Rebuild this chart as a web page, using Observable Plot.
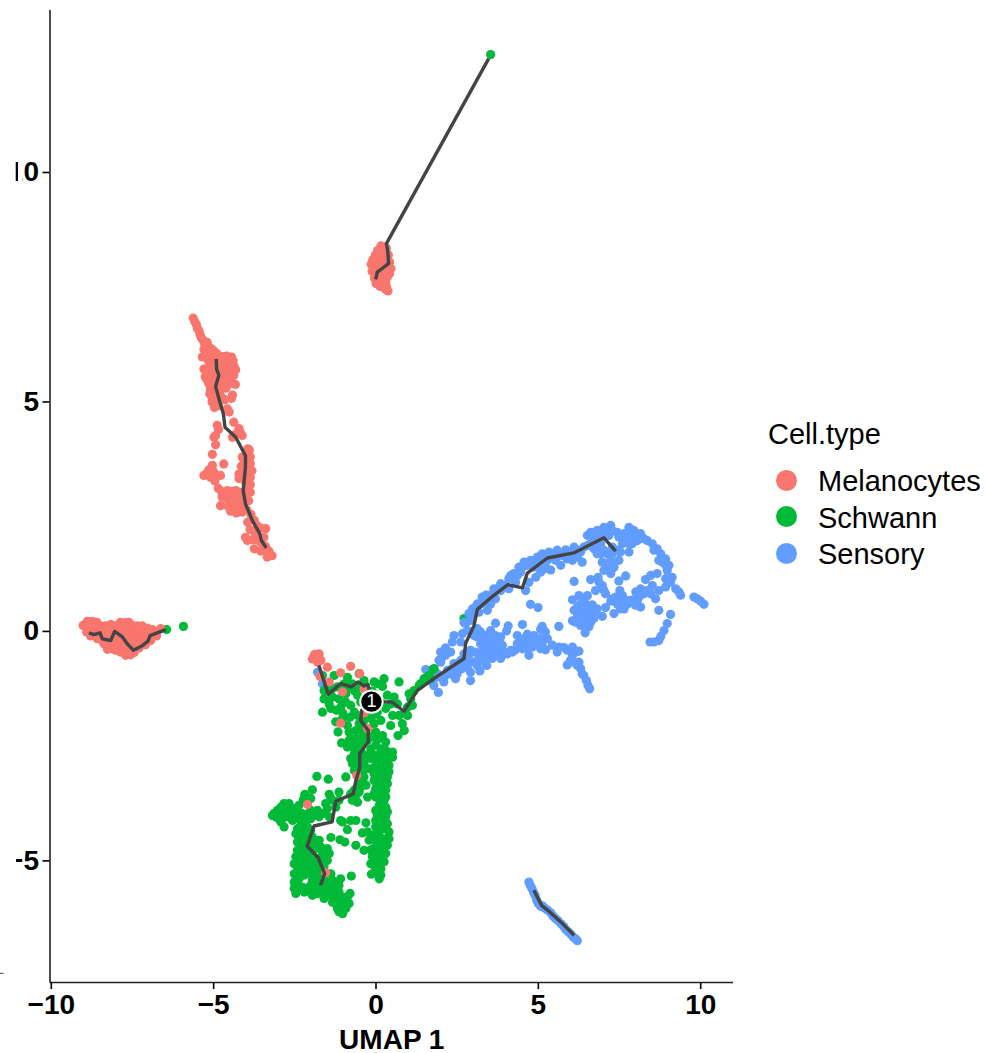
<!DOCTYPE html>
<html><head><meta charset="utf-8">
<script src="https://cdn.jsdelivr.net/npm/d3@7"></script>
<script src="https://cdn.jsdelivr.net/npm/@observablehq/plot@0.6"></script>
<style>
html,body{margin:0;padding:0;background:#fff;width:986px;height:1053px;overflow:hidden;position:relative;font-family:"Liberation Sans",sans-serif}
#legend{position:absolute;left:768px;top:416px;width:218px;color:#000}
#legend .t{font-size:29px;line-height:36px;height:46px}
#legend .r{position:absolute;left:0;height:36px;font-size:29px;line-height:38px;padding-left:50px;white-space:nowrap}
#legend .k{position:absolute;left:7.5px;top:7.5px;width:21px;height:21px;border-radius:50%}
</style></head><body>
<div id="chart"></div>
<div id="legend"></div>
<script>
const cellTypes = ["Melanocytes", "Schwann", "Sensory"];
const cellColors = ["#F8766D", "#00BA38", "#619CFF"];
const xTicks = [-10, -5, 0, 5, 10];
const yTicks = [10, 5, 0, -5];
const xDomain = [-10.04, 11.01];
const yDomain = [-7.65, 13.53];
const strayMark = {y: -7.45, x1: -11.57, x2: -11.45};
const nodes = [{x: -0.14, y: -1.53, label: "1"}];

const melanocytes = [
[0.15,8.40],[0.25,8.38],[0.32,8.35],[0.05,8.30],[0.15,8.28],[0.28,8.25],[0.38,8.2],[-0.02,8.2],[0.1,8.18],[0.2,8.15],[0.35,8.1],[0.42,8.05],[-0.1,8.1],[0,8.08],[0.12,8.05],[0.25,8.02],[0.4,7.95],[0.46,7.9],[-0.15,8],[-0.08,7.95],[0.05,7.95],[0.18,7.9],[0.3,7.88],[0.42,7.8],[-0.12,7.85],[-0.02,7.82],[0.1,7.8],[0.22,7.75],[0.35,7.72],[-0.05,7.7],[0.05,7.65],[0.18,7.62],[0.3,7.6],[0,7.58],[0.12,7.52],[0.22,7.5],[0.3,7.45],[0.37,7.42],[0.33,7.5],
[-5.63,6.83],[-5.58,6.75],[-5.53,6.68],[-5.5,6.6],[-5.45,6.55],[-5.42,6.47],[-5.38,6.4],[-5.33,6.35],[-5.28,6.27],[-5.2,6.3],[-5.15,6.2],[-5.3,6.15],[-5.22,6.1],[-5.05,6.15],[-5.12,6.05],[-4.98,6.1],[-4.9,6.05],[-5.35,5.98],
[-5.18,6.0],[-5.03,5.98],[-4.88,6.02],[-4.73,5.99],[-4.6,6.0],[-4.45,5.98],[-5.16,5.9],[-5.0,5.88],[-4.85,5.92],[-4.7,5.9],[-4.55,5.87],[-4.4,5.9],[-5.1,5.78],[-4.95,5.82],[-4.8,5.8],[-4.65,5.77],[-4.5,5.8],[-4.37,5.78],[-5.3,5.72],[-5.2,5.68],[-5.05,5.7],[-4.75,5.68],[-4.6,5.7],[-4.45,5.67],[-4.32,5.7],[-5.26,5.55],[-5.12,5.6],[-4.98,5.58],[-4.82,5.6],[-4.68,5.57],[-4.52,5.6],[-4.38,5.58],[-5.22,5.5],[-5.08,5.47],[-4.92,5.5],[-4.75,5.48],[-4.6,5.5],[-4.45,5.47],[-4.33,5.38],[-5.15,5.4],[-5.0,5.38],[-4.85,5.4],[-4.68,5.37],[-4.5,5.4],[-5.1,5.28],[-4.95,5.3],[-4.78,5.27],[-4.62,5.3],[-5.12,5.18],[-5,5.2],[-4.85,5.17],[-4.42,5.15],[-5.05,5.1],[-4.9,5.08],[-4.75,5.1],[-4.65,5.05],[-4.45,5.08],[-5.05,5],[-4.95,4.98],[-4.82,5.02],[-4.98,4.88],[-4.85,4.92],[-4.58,4.85],[-4.52,4.78],
[-4.38,4.56],[-4.89,4.49],[-4.94,4.27],[-4.99,4.23],[-4.94,4.07],[-5.04,3.86],[-4.69,3.65],[-4.85,4.4],[-4.22,4.42],[-4.12,4.27],[-4.42,4.23],[-4.32,4.3],[-4.18,4.34],[-3.95,3.98],[-3.87,3.8],[-4.12,3.8],[-3.87,3.65],[-3.82,3.5],[-3.87,3.36],[-4.22,3.43],[-4.22,3.33],[-4.02,3.25],[-3.9,3.95],[-4.05,3.7],[-4.0,3.5],[-3.87,3.2],[-3.87,3.03],[-3.92,2.85],[-4.05,3.05],[-3.92,3.72],[-4.15,3.6],[-4.12,3.45],[-3.95,3.1],[-4.0,2.95],[-3.98,3.35],
[-5.3,3.4],[-5.04,3.62],[-5.15,3.52],[-5.0,3.48],[-4.79,3.4],[-5.1,3.36],[-4.96,3.28],[-5.2,3.45],[-4.95,3.42],[-4.86,3.12],[-4.76,3.05],[-4.79,2.74],[-4.74,2.93],
[-4.58,3.07],[-4.45,3.05],[-4.32,3.07],[-4.18,3.03],[-4.6,2.88],[-4.48,2.92],[-4.35,2.88],[-4.2,2.9],[-4.08,2.87],[-4.55,2.72],[-4.4,2.75],[-4.27,2.72],[-4.12,2.73],[-4.48,2.62],[-4.3,2.58],[-4.12,2.6],[-3.98,2.65],[-4.08,2.78],
[-3.85,2.55],[-3.75,2.42],[-3.65,2.3],[-3.55,2.25],[-3.4,2.24],[-3.95,2.38],[-3.88,2.22],[-3.75,2.18],[-4.02,2.05],[-3.96,1.98],[-3.8,2.0],[-3.75,1.8],[-3.62,1.98],[-3.5,1.91],[-3.45,2.05],[-3.35,1.62],[-3.2,1.65],[-3.3,1.75],[-3.4,1.85],[-3.68,2.1],[-3.55,1.75],
[-9.02,0.13],[-8.89,0.22],[-8.74,0.22],[-8.60,0.20],[-8.94,0.09],[-8.79,0.12],[-8.63,0.09],[-8.48,0.12],[-8.33,0.12],[-8.17,0.15],[-8.91,-0.01],[-8.77,0],[-8.60,-0.03],[-8.43,-0.01],[-8.27,0],[-8.12,0.04],[-7.97,0.13],[-7.87,0.20],[-7.71,0.19],[-7.61,0.20],[-7.81,0.09],[-7.66,0.07],[-7.50,0.13],[-7.35,0.12],[-7.20,0.12],[-7.04,0.07],[-6.89,0.04],[-6.74,0],[-6.63,0.06],[-8.79,-0.10],[-8.58,-0.16],[-8.43,-0.20],[-8.27,-0.16],[-8.12,-0.12],[-7.97,-0.05],[-7.81,-0.03],[-7.66,-0.05],[-7.50,-0.01],[-7.35,0],[-7.20,-0.01],[-7.04,-0.05],[-6.89,-0.09],[-6.76,-0.10],[-8.38,-0.27],[-8.22,-0.30],[-8.27,-0.39],[-8.12,-0.38],[-8.12,-0.25],[-7.97,-0.20],[-7.81,-0.16],[-7.66,-0.17],[-7.50,-0.15],[-7.35,-0.12],[-7.20,-0.15],[-7.04,-0.16],[-6.94,-0.20],[-7.97,-0.34],[-7.81,-0.29],[-7.66,-0.30],[-7.50,-0.27],[-7.35,-0.25],[-7.20,-0.25],[-7.10,-0.29],[-7.76,-0.41],[-7.61,-0.41],[-7.45,-0.38],[-7.30,-0.36],[-7.71,-0.52],[-7.56,-0.51],[-7.45,-0.46],[-7.87,-0.45],[-8.02,-0.41],
[-1.86,-0.56],[-1.91,-0.52],[-1.80,-0.67],[-1.75,-0.49],[-1.96,-0.60],[-1.70,-0.63],[-1.88,-0.5],[-1.82,-0.6],[-1.78,-0.55],[-1.50,-0.78],[-0.78,-0.76],[-1.09,-0.90],[-0.50,-0.92],[-1.44,-1.10],[-1.72,-0.98],[-1.03,-1.32],[-1.09,-2.00],[-0.37,-1.77],[-0.26,-2.12],[-0.59,-3.14],[-2.11,-3.77],[-1.55,-5.26],[-0.37,-1.25]
];

const schwann = [
[3.53,12.57],[-6.45,0.04],[-5.93,0.11],
[-1.65,-0.96],[-1.60,-1.47],[-1.65,-1.76],[-1.39,-1.68],[-1.29,-0.96],[-0.88,-1.0],[-0.52,-0.92],[-0.06,-1.10],[0.25,-1.03],[0.71,-1.10],[-1.19,-1.21],[-0.73,-1.14],[-0.37,-1.07],[-0.93,-1.36],[-0.57,-1.39],[-1.34,-1.43],[-1.09,-1.65],[-0.78,-1.61],[-1.14,-1.47],[-0.26,-1.72],[0.04,-1.76],[0.30,-1.68],[0.56,-1.43],[0.66,-1.58],[0.35,-1.39],[1.12,-1.61],[1.02,-1.36],[0.71,-1.83],[0.97,-1.83],[0.81,-2.01],[0.87,-2.16],[0.68,-2.27],[-0.80,-1.87],[-1.24,-1.97],[-1.17,-2.19],[-0.88,-2.05],[-0.52,-2.01],[-0.06,-2.01],[-0.01,-2.19],[0.20,-2.27],[0.45,-2.05],[-0.62,-2.16],[-1.06,-2.43],[-0.73,-2.34],[-0.88,-2.52],[-0.67,-2.52],[-0.37,-2.27],[-0.47,-2.45],[-0.16,-2.56],[-0.01,-2.48],[0.30,-2.41],[0.51,-2.63],[-0.73,-2.81],[-0.67,-2.66],[-0.37,-2.70],[-0.01,-2.70],[0.40,-2.77],
[-1.50,-1.14],[-1.60,-1.29],[-1.44,-1.58],[-0.98,-1.14],[-0.93,-1.54],[-0.67,-1.29],[-0.47,-1.21],[-0.26,-1.39],[-0.47,-1.54],[-0.67,-1.76],[-0.37,-1.94],[-0.16,-1.90],[0.15,-1.94],[0.04,-1.14],[0.15,-1.54],[0.45,-1.58],[0.51,-1.83],[0.97,-1.65],[1.07,-1.47],[-0.57,-1.83],[-1.03,-1.90],[-0.83,-2.19],[-0.47,-2.16],[-0.26,-2.37],[-0.57,-2.34],[-0.83,-2.37],[-0.67,-2.41],[-0.47,-2.59],[-0.26,-2.70],[-0.16,-2.77],[-0.52,-2.70],[-0.26,-2.99],[-0.47,-2.85],[-0.78,-2.77],[-0.73,-2.88],[0.15,-2.56],[0.30,-2.59],[0.51,-2.74],[0.40,-2.92],[0.15,-2.30],[0.35,-2.66],
[-1.22,-1.72],[-1.02,-1.78],[-1.35,-1.25],[-0.85,-1.25],[-0.12,-1.30],[-0.02,-1.80],[0.20,-1.20],[-0.12,-2.30],[0.05,-2.35],[-0.28,-2.15],
[0.04,-2.88],[0.30,-2.88],[0.15,-2.99],[-0.01,-3.06],[0.25,-3.06],[0.10,-3.17],[0.35,-3.17],[0.04,-3.28],[0.25,-3.32],[-0.01,-3.43],[0.30,-3.46],[0.15,-3.57],[-0.06,-3.54],[0.25,-3.68],[0.10,-3.79],[0.30,-3.83],[0.20,-3.93],[0.04,-4.01],[0.30,-4.04],[0.15,-4.15],[0.35,-4.19],[-0.01,-4.26],[0.25,-4.30],[0.40,-4.37],[0.10,-4.44],[0.30,-4.52],[-0.01,-4.55],[0.20,-4.62],[0.35,-4.66],[-0.06,-4.73],[0.15,-4.81],[0.30,-4.84],[-0.11,-4.91],[0.10,-4.95],[0.25,-5.02],[-0.06,-5.10],[0.15,-5.17],[0.04,-5.28],[-0.01,-5.21],[0.10,-5.39],[-0.14,-5.29],[-0.06,-2.96],[0.20,-2.74],
[-0.06,-3.25],[0.40,-3.06],[-0.06,-3.10],[0.04,-3.39],[0.20,-3.43],[0.15,-3.28],[0.35,-3.32],[-0.01,-3.61],[0.10,-3.64],[0.30,-3.61],[0.15,-3.86],[-0.01,-3.90],[0.35,-3.93],[0.15,-4.04],[-0.01,-4.12],[0.30,-4.23],[0.10,-4.30],[-0.06,-4.44],[0.40,-4.52],[0.15,-4.55],[-0.01,-4.70],[-0.11,-4.81],[0.20,-4.73],[0.04,-4.84],[-0.01,-5.02],[0.10,-5.10],[-0.16,-5.06],[0.20,-4.91],[0.15,-5.31],
[-0.57,-2.77],[-0.62,-2.92],[-0.37,-2.88],[-0.67,-3.03],[-0.47,-3.06],[-0.37,-3.17],[-0.52,-3.25],[-0.37,-2.99],[-0.26,-3.61],[-0.73,-3.61],[-0.57,-3.72],[-0.73,-3.68],[-0.67,-3.46],[-0.47,-3.39],[-0.78,-3.54],[-0.62,-3.57],[-0.52,-3.50],[-0.57,-3.39],[-0.47,-3.28],[-0.31,-3.35],
[-1.82,-3.16],[-1.47,-3.22],[-0.93,-3.17],[-1.96,-3.45],[-2.19,-3.55],[-2.01,-3.64],[-2.24,-3.67],[-1.44,-3.55],[-1.14,-3.50],[-1.39,-3.64],[-1.24,-3.83],[-1.55,-3.75],[-1.50,-3.86],[-1.44,-4.04],[-1.09,-4.12],[-0.78,-4.12],[-0.62,-4.12],[-1.03,-4.15],[-0.88,-4.32],[-0.42,-4.39],[-0.31,-4.17],[-0.26,-4.37],[-0.21,-4.55],[-1.39,-4.49],[-1.11,-4.54],[-0.96,-4.59],[-0.62,-4.66],[-0.37,-4.77],[-0.16,-4.76],[-0.76,-5.33],[-1.09,-5.39],[-1.14,-5.53],[-1.14,-3.68],[-1.34,-3.68],
[-3.14,-3.97],[-3.04,-3.90],[-2.93,-3.83],[-2.83,-3.75],[-2.73,-3.79],[-2.88,-3.93],[-3.09,-4.04],[-2.99,-4.08],[-2.78,-4.04],[-2.63,-3.90],[-2.68,-4.04],[-2.83,-4.26],[-2.93,-4.15],[-2.42,-3.97],[-2.57,-4.12],[-2.52,-3.86],[-2.37,-3.79],[-2.99,-3.97],[-2.83,-3.86],[-2.73,-3.93],[-2.57,-4.01],[-3.19,-4.01],[-2.88,-4.04],[-2.68,-3.75],[-2.52,-3.97],
[-2.27,-3.97],[-2.01,-3.90],[-1.80,-3.90],[-1.65,-3.97],[-2.21,-4.12],[-2.01,-4.08],[-2.32,-4.23],[-2.11,-4.26],[-2.47,-4.41],[-2.27,-4.37],[-2.11,-4.48],[-2.42,-4.59],[-2.16,-4.62],[-1.96,-4.48],[-1.75,-4.55],[-2.27,-4.73],[-2.01,-4.77],[-1.70,-4.70],[-1.50,-4.73],[-2.47,-4.91],[-2.27,-4.91],[-2.06,-4.91],[-1.60,-4.88],[-1.44,-4.84],[-2.52,-5.06],[-2.32,-5.10],[-2.11,-5.10],[-1.91,-5.06],[-1.70,-5.06],[-2.42,-5.24],[-2.21,-5.21],[-2.01,-5.28],[-1.80,-5.24],[-1.55,-5.28],[-2.47,-5.42],[-2.40,-5.53],[-1.96,-5.42],[-1.75,-5.46],[-1.50,-5.46],[-1.34,-5.42],[-2.52,-5.60],[-2.37,-5.64],[-2.11,-5.60],[-1.91,-5.60],[-1.70,-5.64],[-1.44,-5.60],[-1.24,-5.64],[-2.47,-5.71],[-1.96,-5.75],[-1.60,-5.82],[-1.34,-5.79],[-1.14,-5.79],[-0.88,-5.79],[-1.24,-5.93],[-1.03,-5.90],[-0.83,-5.93],[-1.19,-6.04],[-1.03,-6.15],[-0.93,-6.04],[-0.80,-5.71],
[-2.27,-4.55],[-2.37,-4.48],[-2.21,-4.33],[-2.01,-4.33],[-1.86,-4.55],[-2.01,-4.62],[-1.86,-4.73],[-1.65,-4.81],[-2.16,-4.81],[-2.42,-4.77],[-2.37,-4.99],[-2.16,-4.99],[-1.96,-4.95],[-1.75,-4.95],[-1.50,-4.99],[-1.60,-5.13],[-2.42,-5.13],[-2.21,-5.31],[-2.01,-5.13],[-1.86,-5.13],[-2.52,-5.28],[-2.37,-5.39],[-1.91,-5.35],[-1.65,-5.35],[-1.39,-5.28],[-2.52,-5.46],[-1.86,-5.53],[-1.60,-5.53],[-1.39,-5.53],[-2.27,-5.57],[-2.01,-5.53],[-2.21,-5.68],[-2.01,-5.68],[-1.80,-5.71],[-1.55,-5.71],[-1.34,-5.68],[-1.14,-5.68],[-1.24,-5.53],[-1.14,-5.90],[-1.34,-5.90],[-0.98,-5.97],[-1.09,-6.0],[-1.14,-6.11],[-1.03,-5.79],[-1.86,-4.01],[-2.06,-3.97],[-1.75,-4.04],[-2.37,-4.08],[-2.42,-4.30],
[1.37,-1.14],[1.63,-0.96],[1.76,-0.83],[1.53,-1.07],[1.68,-1.03],[1.17,-1.29],[1.48,-1.03],[1.64,-0.96],[1.79,-0.81],[1.33,-1.18]
];

const schwannUnder = [[2.71,0.28]];

const sensory = [
[-1.80,-0.89],[-1.65,-1.14],[0.89,-1.78],
[1.53,-0.83],[1.63,-1.07],[1.78,-1.18],[1.92,-1.33],[2.09,-1.10],[1.89,-0.92],[2.14,-0.96],[2.40,-0.96],[2.45,-1.03],[2.20,-0.85],[2.35,-0.81],[2.50,-0.78],[1.94,-0.63],[2.04,-0.56],[1.99,-0.45],[2.14,-0.36],[2.30,-0.45],[2.40,-0.09],[2.35,-0.23],[2.61,-0.23],[2.66,-0.05],[2.76,0.17],[2.71,0.20],[2.91,0.24],[3.02,0.39],[2.97,0.49],[3.12,0.60],[3.27,0.75],[3.38,0.79],[3.58,0.82],[3.68,0.71],[3.43,0.46],[3.17,0.42],[3.53,0.60],[3.73,0.93],[3.94,1.00],[3.84,0.89],[4.15,1.22],[4.09,0.93],[4.30,1.07],[4.45,1.29],[4.40,1.40],[4.56,1.51],[4.76,1.55],[4.97,1.62],[5.12,1.69],[5.33,1.73],[5.58,1.77],[5.84,1.78],[6.10,1.84],[4.66,1.44],[4.86,1.40],[5.07,1.29],[4.92,1.18],[4.71,1.07],[4.61,0.89],[5.38,1.34],[5.28,1.55],[5.69,1.44],[5.53,1.55],[5.89,1.58],[6.20,1.62],[6.35,1.51],[6.05,1.55],[6.30,1.73],[6.51,1.87],[6.61,2.16],[6.51,2.09],[6.81,2.20],[7.02,2.27],[7.23,2.31],[6.97,2.13],[6.76,1.98],[6.71,1.80],[6.92,1.91],[7.17,2.09],[7.43,2.16],[7.64,2.13],[7.79,2.27],[7.94,2.20],[8.15,2.13],[8.35,1.98],[8.51,1.91],[8.66,1.80],[8.77,1.69],[8.92,1.58],[9.02,1.44],[9.12,1.18],[8.92,1.44],[8.71,1.55],[8.92,1.15],[9.02,1.07],[8.92,0.97],[9.23,0.93],[9.38,0.79],[7.99,2.06],[7.79,1.73],[7.59,1.91],[7.43,1.77],[7.28,1.84],[7.12,1.69],[6.81,1.69],[6.97,1.51],[7.23,1.55],[7.48,1.55],[7.28,1.37],[7.02,1.33],[7.23,1.26],[7.33,1.40],[7.69,1.21],[7.48,1.10],[7.51,0.89],[7.59,0.78],[7.38,0.75],[7.23,0.66],[7.43,0.60],[7.33,0.39],[7.53,0.49],[7.74,0.60],[7.89,0.68],[8.15,0.53],[8.10,0.75],[8.15,0.93],[8.35,0.89],[8.51,1.00],[8.66,1.26],[8.46,1.22],[8.30,1.13],[8.71,0.89],[8.61,0.71],[8.46,0.82],[8.71,0.46],[9.07,0.37],[8.97,0.17],[8.87,0.02],[8.77,-0.11],[8.56,-0.23],[8.44,-0.23],[8.71,-0.20],[9.79,0.75],[9.89,0.71],[10.00,0.66],[10.10,0.59],
[1.99,-0.67],[2.14,-0.52],[2.50,-0.92],[2.30,-0.92],[1.99,-1.0],[1.84,-1.0],[1.68,-0.85],[2.61,-0.70],[2.81,0.02],[2.86,0.39],[3.07,0.53],[3.22,0.60],[3.38,0.64],[3.48,0.75],[3.63,0.93],[3.84,1.04],[4.09,1.15],[4.25,1.26],[4.35,1.22],[4.51,1.40],[4.92,1.51],[5.07,1.55],[5.22,1.62],[5.02,1.40],[5.22,1.37],[5.48,1.69],[5.74,1.69],[5.99,1.73],[6.20,1.77],[6.40,1.84],[6.61,1.91],[6.66,2.09],[6.87,2.02],[7.07,2.20],[7.28,2.20],[7.48,2.06],[7.64,2.02],[7.84,2.09],[7.89,1.91],[8.05,1.98],[8.25,2.02],[8.56,1.77],[8.82,1.51],[8.97,1.33],[7.74,2.13],[7.79,1.91],[6.81,1.80],[7.02,1.77],[7.28,1.69],[7.12,1.47],[6.92,1.69],[7.53,1.73],
[7.28,0.71],[7.43,0.71],[7.64,0.67],[7.79,0.67],[8.05,0.68],[8.25,0.82],[8.00,0.86],[7.53,0.60],[7.64,0.49],[7.99,0.57],[9.07,1.07],[9.33,0.86],
[6.10,1.09],[6.61,1.13],[6.84,1.18],[6.76,0.89],[6.97,1.00],[7.07,0.82],[6.25,0.78],[6.51,0.78],[6.05,0.69],[6.66,0.58],[6.81,0.49],[7.07,0.52],[6.97,0.33],[6.30,0.60],[6.10,0.46],[6.30,0.46],[6.51,0.46],[6.71,0.39],[6.20,0.31],[6.05,0.23],[6.40,0.24],[6.61,0.20],[6.30,0.13],[6.56,0.10],[6.44,-0.03],[4.76,0.59],[4.99,0.52],
[6.35,0.71],[6.46,0.60],[6.20,0.53],[6.40,0.53],[6.61,0.50],[6.40,0.39],[6.61,0.35],[6.51,0.31],[6.30,0.28],[6.15,0.20],[6.46,0.17],[6.71,0.28],[6.87,1.07],[7.02,0.89],
[3.68,0.18],[4.07,0.12],[4.02,0.01],[4.51,0.15],[5.12,0.11],[5.22,-0.01],[5.63,0.11],[5.07,0.04],[3.53,0.02],[3.22,-0.01],[3.12,0.06],[3.02,-0.09],[3.38,-0.09],[3.68,-0.09],[3.84,-0.12],[3.43,-0.27],[3.22,-0.27],[3.63,-0.27],[3.58,-0.41],[3.89,-0.30],[2.91,-0.41],[3.38,-0.52],[3.17,-0.56],[3.02,-0.67],[2.81,-0.63],[2.91,-0.89],[3.20,-0.86],[3.41,-0.74],[2.91,-1.07],[3.58,-0.59],[3.84,-0.59],[4.04,-0.49],[4.35,-0.09],[4.66,-0.06],[4.86,-0.09],[5.28,-0.16],[4.45,-0.27],[4.66,-0.23],[4.92,-0.27],[5.07,-0.38],[5.22,-0.40],[4.30,-0.40],[4.51,-0.38],[4.71,-0.52],[5.43,-0.30],[5.58,-0.45],[5.79,-0.35],[6.05,-0.34],[6.25,-0.43],[6.05,-0.52],[6.10,-0.67],[5.89,-0.73],[6.30,-0.81],[6.40,-0.96],[6.48,-1.07],[6.58,-1.25],[6.53,-1.18],[6.20,-0.74],[2.40,-0.70],[2.61,-0.63],[2.71,-0.49],
[3.73,-0.45],[3.95,-0.45],[3.30,-0.4],[3.5,-0.13],[4.2,-0.45],[4.55,-0.3],[5.0,1.5],[5.2,1.45],[5.5,1.65],[5.75,1.65],[6.0,1.72],
[3.12,-0.12],[3.27,-0.16],[3.53,-0.12],[3.73,-0.23],[3.48,-0.41],[3.32,-0.38],[3.07,-0.45],[2.86,-0.52],[3.73,-0.41],[3.89,-0.49],[3.27,-0.63],[3.12,-0.74],[3.48,-0.56],[2.81,-0.78],[2.66,-0.81],[4.15,-0.41],[4.45,-0.16],[4.76,-0.12],[5.02,-0.16],[5.12,-0.27],[4.81,-0.34],[4.66,-0.38],[4.35,-0.27],[5.17,-0.09],[5.89,-0.41],[5.63,-0.34],[6.15,-0.45],[5.99,-0.63],[6.25,-0.67],[6.35,-0.92],
[4.71,-5.46],[4.75,-5.53],[4.8,-5.6],[4.85,-5.68],[4.9,-5.75],[4.95,-5.85],[5.0,-5.93],[5.07,-5.99],[5.12,-5.98],[5.2,-6.03],[5.28,-6.07],[5.38,-6.13],[5.45,-6.2],[5.52,-6.25],[5.6,-6.3],[5.7,-6.37],[5.78,-6.43],[5.85,-6.5],[5.93,-6.55],[6.0,-6.6],[6.07,-6.66],[6.15,-6.7],[6.2,-6.74]
];

const pathTop = [[-0.01,7.67],[0.04,7.83],[0.23,7.93],[0.39,8.02],[0.36,8.30],[0.32,8.45],[3.47,12.48]];
const pathStrand = [[-4.92,5.94],[-4.91,5.72],[-4.84,5.58],[-4.94,5.34],[-4.81,5.00],[-4.70,4.74],[-4.65,4.45],[-4.32,4.23],[-4.02,3.83],[-4.02,3.58],[-4.09,3.07],[-4.02,2.78],[-3.81,2.42],[-3.58,2.13],[-3.53,1.98],[-3.38,1.82]];
const pathClump = [[-8.84,-0.03],[-8.69,-0.07],[-8.50,-0.03],[-8.43,-0.16],[-8.17,-0.20],[-8.05,0],[-7.81,-0.12],[-7.66,-0.27],[-7.47,-0.41],[-7.20,-0.31],[-7.02,-0.21],[-6.96,-0.09],[-6.74,-0.03],[-6.48,0.04]];
const pathTrunk = [[-1.76,-0.74],[-1.47,-1.37],[-1.09,-1.14],[-0.76,-1.21],[-0.55,-1.10],[-0.37,-1.19],[-0.25,-1.15],[-0.14,-1.53],[0.50,-1.54],[0.86,-1.74],[1.27,-1.29],[1.78,-1.03],[2.71,-0.59],[2.76,-0.26],[3.02,0.13],[3.12,0.48],[3.53,0.73],[4.06,1.02],[4.51,0.95],[4.66,1.27],[5.28,1.60],[6.09,1.71],[7.02,2.04],[7.38,1.75]];
const pathDown = [[-0.14,-1.53],[-0.44,-1.72],[-0.47,-1.94],[-0.24,-2.16],[-0.24,-2.41],[-0.50,-2.66],[-0.50,-2.96],[-0.63,-3.28],[-0.70,-3.54],[-1.24,-3.70],[-1.35,-4.15],[-1.91,-4.24],[-2.12,-4.68],[-1.79,-4.92],[-1.58,-5.28],[-1.71,-5.53]];
const pathTail = [[4.86,-5.64],[5.10,-5.97],[5.33,-6.10],[5.69,-6.33],[6.10,-6.62]];

const rows = (pts, type) => pts.map(([x, y]) => ({x, y, type}));
const cells = [
  ...rows(schwannUnder, "Schwann"),
  ...rows(sensory, "Sensory"),
  ...rows(schwann, "Schwann"),
  ...rows(melanocytes, "Melanocytes")
];
const paths = [pathTop, pathStrand, pathClump, pathTrunk, pathDown, pathTail]
  .flatMap((p, i) => p.map(([x, y]) => ({x, y, id: i})));
const minusFormat = d => d < 0 ? "\u2212" + (-d) : String(d);

const plot = Plot.plot({
  width: 986, height: 1053,
  marginLeft: 49.5, marginRight: 253, marginTop: 10, marginBottom: 71,
  style: {fontFamily: '"Liberation Sans", sans-serif', background: "#fff", color: "#000"},
  x: {domain: xDomain},
  y: {domain: yDomain},
  color: {domain: cellTypes, range: cellColors},
  marks: [
    Plot.dot(cells, {x: "x", y: "y", fill: "type", r: 4.6}),
    Plot.line(paths, {x: "x", y: "y", z: "id", stroke: "#444444", strokeWidth: 3.4, strokeLinejoin: "round", strokeLinecap: "butt"}),
    Plot.dot(nodes, {x: "x", y: "y", r: 11.2, fill: "#000", stroke: "#fff", strokeWidth: 2}),
    Plot.text(nodes, {x: "x", y: "y", text: "label", fill: "#fff", fontSize: 18}),
    Plot.ruleX([xDomain[0]], {stroke: "#222", strokeWidth: 1.6}),
    Plot.ruleY([yDomain[0]], {stroke: "#222", strokeWidth: 1.6}),
    Plot.ruleY([strayMark], {y: "y", x1: "x1", x2: "x2", stroke: "#444", strokeWidth: 1}),
    Plot.axisX({ticks: xTicks, tickSize: 7, tickPadding: 5, fontSize: 28, fontWeight: "bold", label: "UMAP 1", labelAnchor: "center", labelArrow: "none", labelOffset: 66, strokeWidth: 1.6, tickFormat: minusFormat}),
    Plot.axisY({ticks: yTicks, tickSize: 7, tickPadding: 4, fontSize: 28, fontWeight: "bold", label: null, strokeWidth: 1.6, tickFormat: minusFormat})
  ]
});
document.getElementById("chart").appendChild(plot);

// The reference's y tick labels are cut off at the left: each label gets a clip in its own coordinates.
// For "10" only a sliver of the 1's stem survives, so the clip keeps that sliver and the 0.
const svg = d3.select(plot.tagName === "svg" ? plot : plot.querySelector("svg"));
svg.selectAll('g[aria-label="y-axis tick label"] text').each(function (_, i) {
  const {e, f} = this.getCTM();
  const id = "ylab-clip-" + i;
  const clip = svg.append("clipPath").attr("id", id);
  const spans = this.textContent === "10" ? [[15.7, 2.3], [22.5, 60]] : [[16, 60]];
  spans.forEach(([left, w]) => {
    clip.append("rect").attr("x", left - e).attr("y", -f).attr("width", w).attr("height", 1053);
  });
  d3.select(this).attr("clip-path", "url(#" + id + ")");
});

const legend = document.getElementById("legend");
const title = document.createElement("div");
title.className = "t";
title.textContent = "Cell.type";
legend.appendChild(title);
cellTypes.forEach((t, i) => {
  const r = document.createElement("div");
  r.className = "r";
  r.style.top = (46 + i * 36.5) + "px";
  const k = document.createElement("span");
  k.className = "k";
  k.style.background = cellColors[i];
  r.appendChild(k);
  r.appendChild(document.createTextNode(t));
  legend.appendChild(r);
});
</script>
</body></html>
